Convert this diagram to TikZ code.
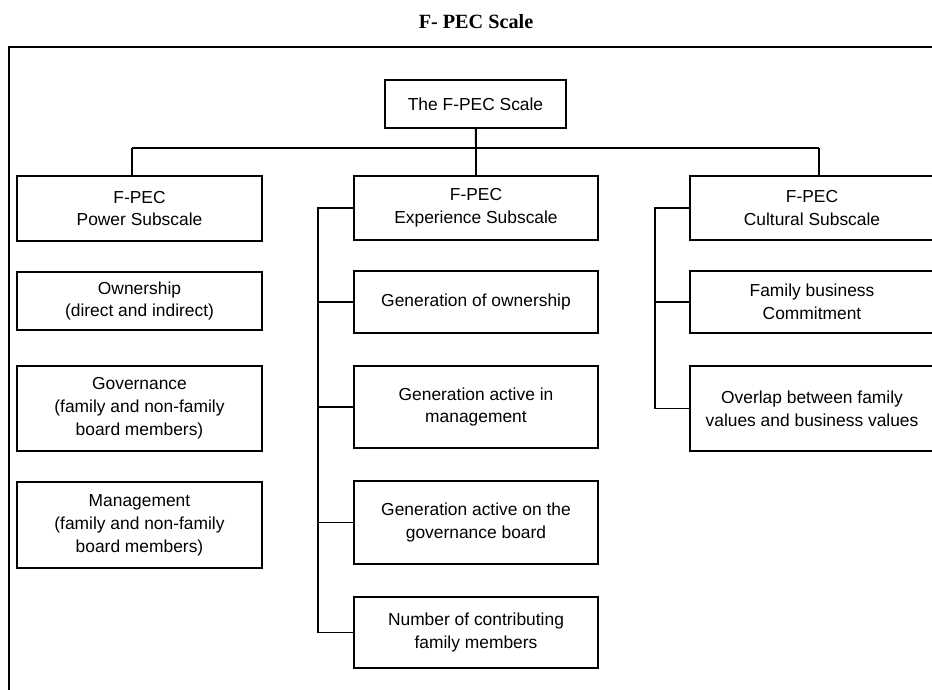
\documentclass[tikz,border=0pt]{standalone}
\usepackage{fontspec}
\setmainfont{Liberation Sans}
\newfontfamily\titlefont{Liberation Serif}
\usetikzlibrary{positioning}

\begin{document}
\begin{tikzpicture}[x=0.02cm,y=-0.02cm,line width=1.1pt,
  scalebox/.style={draw,align=center,inner sep=0pt,font=\fontsize{9.9}{13}\selectfont,minimum width=4.9cm},
  topbox/.style={scalebox,minimum width=3.62cm,minimum height=0.96cm}]
\useasboundingbox (0,0) rectangle (932,689);
\clip (0,0) rectangle (932,689);
\node[font=\titlefont\bfseries\fontsize{11.5}{14}\selectfont] (title) at (476,22) {F- PEC Scale};
\draw (9,700) -- (9,47) -- (940,47);
\node[topbox] (top) at (475.5,104) {The F-PEC Scale};
\node[scalebox,minimum height=1.3cm] (hdrP) at (139.5,208.5) {F-PEC\\Power Subscale};
\node[scalebox,minimum height=1.16cm] (own) at (139.5,301) {Ownership\\(direct and indirect)};
\node[scalebox,minimum height=1.7cm] (gov) at (139.5,408.5) {Governance\\(family and non-family\\board members)};
\node[scalebox,minimum height=1.72cm] (mgmt) at (139.5,525) {Management\\(family and non-family\\board members)};
\node[scalebox,minimum width=4.88cm,minimum height=1.28cm] (hdrE) at (476,208) {F-PEC\\Experience Subscale};
\node[scalebox,minimum width=4.88cm,minimum height=1.24cm] (genown) at (476,302) {Generation of ownership};
\node[scalebox,minimum width=4.88cm,minimum height=1.64cm] (genmgmt) at (476,407) {Generation active in\\management};
\node[scalebox,minimum width=4.88cm,minimum height=1.66cm] (genboard) at (476,522.5) {Generation active on the\\governance board};
\node[scalebox,minimum width=4.88cm,minimum height=1.42cm] (members) at (476,632.5) {Number of contributing\\family members};
\node[scalebox,minimum height=1.28cm] (hdrC) at (812,208) {F-PEC\\Cultural Subscale};
\node[scalebox,minimum height=1.24cm] (commit) at (812,302) {Family business\\Commitment};
\node[scalebox,minimum height=1.7cm] (overlap) at (812,408.5) {Overlap between family\\values and business values};
\coordinate (bus) at (476,148);
\coordinate (busL) at (132,148);
\coordinate (busR) at (819,148);
\coordinate (spE) at (318,208);
\coordinate (spC) at (655,208);
\draw (top) -- (bus);
\draw (busL) -- (busR);
\draw (busL) -- (busL |- hdrP.north);
\draw (bus) -- (hdrE.north);
\draw (busR) -- (busR |- hdrC.north);
\draw (hdrE.west) -- (spE) |- (members.west);
\draw (spE |- genown.west) -- (genown.west);
\draw (spE |- genmgmt.west) -- (genmgmt.west);
\draw (spE |- genboard.west) -- (genboard.west);
\draw (hdrC.west) -- (spC) |- (overlap.west);
\draw (spC |- commit.west) -- (commit.west);
\end{tikzpicture}
\end{document}
